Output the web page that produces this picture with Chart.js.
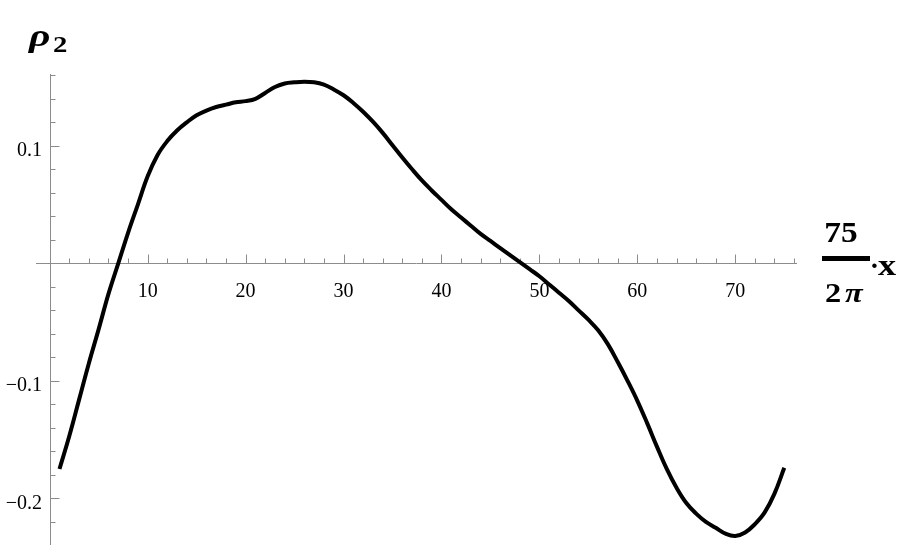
<!DOCTYPE html>
<html>
<head>
<meta charset="utf-8">
<script src="https://cdn.jsdelivr.net/npm/chart.js@4.4.0/dist/chart.umd.min.js"></script>
<style>
html,body{margin:0;padding:0;background:#fff;}
#wrap{width:900px;height:545px;position:relative;}
</style>
</head>
<body>
<div id="wrap"><canvas id="c"></canvas></div>
<script>
// ---- data ----
const xValues = [1,2,3,4,5,6,7,8,9,10,11,12,13,14,15,16,17,18,19,20,21,22,23,24,25,26,27,28,29,30,31,32,33,34,35,36,37,38,39,40,41,42,43,44,45,46,47,48,49,50,51,52,53,54,55,56,57,58,59,60,61,62,63,64,65,66,67,68,69,70,71,72,73,74,75];
const rhoValues = [-0.175,-0.147,-0.116,-0.085,-0.056,-0.026,0.000,0.026,0.050,0.074,0.092,0.104,0.113,0.120,0.126,0.130,0.133,0.135,0.137,0.138,0.140,0.145,0.150,0.153,0.154,0.1545,0.154,0.152,0.148,0.143,0.1365,0.129,0.1205,0.111,0.1005,0.090,0.080,0.0705,0.062,0.054,0.046,0.039,0.032,0.025,0.019,0.013,0.007,0.001,-0.005,-0.011,-0.018,-0.025,-0.032,-0.040,-0.048,-0.057,-0.069,-0.084,-0.100,-0.117,-0.136,-0.156,-0.175,-0.191,-0.204,-0.213,-0.220,-0.225,-0.230,-0.232,-0.229,-0.222,-0.212,-0.196,-0.174];
const xMajorTicks = [10,20,30,40,50,60,70];
const xTickLabels = ["10","20","30","40","50","60","70"];
const yMajorTicks = [0.1,-0.1,-0.2];
const yTickLabels = ["0.1","\u22120.1","\u22120.2"];
const xMinorStep = 2, yMinorStep = 0.02;
const xRange = [-1.4, 76.3];
const yRange = [-0.2397, 0.1611];

const points = xValues.map((x,i)=>({x:x, y:rhoValues[i]}));

function stretchedText(ctx, txt, x, y, sx, font, align){
  ctx.save();
  ctx.font = font;
  ctx.textAlign = align || 'left';
  ctx.translate(x, y);
  ctx.scale(sx, 1);
  ctx.fillText(txt, 0, 0);
  ctx.restore();
}

const axesPlugin = {
  id:'mmaAxes',
  beforeDatasetsDraw(chart){
    const ctx = chart.ctx, xs = chart.scales.x, ys = chart.scales.y, a = chart.chartArea;
    const x0 = Math.round(xs.getPixelForValue(0)) + 0.5;
    const y0 = Math.round(ys.getPixelForValue(0)) + 0.5;
    ctx.save();
    ctx.strokeStyle = '#8c8c8c';
    ctx.lineWidth = 1;
    ctx.beginPath();
    ctx.moveTo(a.left, y0); ctx.lineTo(a.right, y0);
    ctx.moveTo(x0, a.top); ctx.lineTo(x0, a.bottom);
    for (let v = xMinorStep; v <= xRange[1] + 1e-9; v += xMinorStep) {
      const px = Math.round(xs.getPixelForValue(v)) + 0.5;
      const major = Math.abs(v % 10) < 1e-9;
      ctx.moveTo(px, y0); ctx.lineTo(px, y0 - (major ? 9 : 5));
    }
    for (let k = Math.ceil(yRange[0]/yMinorStep - 1e-9); k*yMinorStep <= yRange[1] + 1e-9; k++) {
      if (k === 0) continue;
      const v = k*yMinorStep;
      const py = Math.round(ys.getPixelForValue(v)) + 0.5;
      const major = (k % 5) === 0;
      ctx.moveTo(x0, py); ctx.lineTo(x0 + (major ? 9 : 5), py);
    }
    ctx.stroke();

    ctx.fillStyle = '#000';
    ctx.font = '20px "Liberation Serif", "Times New Roman", serif';
    ctx.textBaseline = 'alphabetic';
    ctx.textAlign = 'center';
    xMajorTicks.forEach((v,i)=>{
      ctx.fillText(xTickLabels[i], xs.getPixelForValue(v), y0 + 33);
    });
    ctx.textAlign = 'right';
    yMajorTicks.forEach((v,i)=>{
      ctx.fillText(yTickLabels[i], 42, ys.getPixelForValue(v) + 10.5);
    });

    // y axis label rho_2
    stretchedText(ctx, '\u03C1', 29, 46, 1.3, 'italic bold 32px "Liberation Serif", serif');
    stretchedText(ctx, '2', 53, 52, 1.25, 'bold 23px "Liberation Serif", serif');

    // x axis label 75/(2 pi) . x
    stretchedText(ctx, '75', 841, 242, 1.15, 'bold 29px "Liberation Serif", serif', 'center');
    ctx.fillRect(822, 256, 48, 5);
    stretchedText(ctx, '2', 825, 302, 1.2, 'bold 27px "Liberation Serif", serif');
    stretchedText(ctx, '\u03C0', 845, 302, 1.2, 'italic bold 27px "Liberation Serif", serif');
    stretchedText(ctx, '\u00B7', 874.5, 275, 1, 'bold 28px "Liberation Serif", serif', 'center');
    stretchedText(ctx, 'x', 878, 275, 1.25, 'bold 29px "Liberation Serif", serif');
    ctx.restore();
  }
};

new Chart(document.getElementById('c'), {
  type:'line',
  data:{ datasets:[{
    data: points,
    borderColor:'#000',
    borderWidth:4,
    pointRadius:0,
    tension:0.4,
    fill:false
  }]},
  options:{
    responsive:true,
    maintainAspectRatio:false,
    animation:false,
    devicePixelRatio:1,
    layout:{padding:{left:36, right:103, top:74, bottom:0}},
    plugins:{legend:{display:false}, tooltip:{enabled:false}},
    scales:{
      x:{type:'linear', min:xRange[0], max:xRange[1], display:false},
      y:{type:'linear', min:yRange[0], max:yRange[1], display:false}
    }
  },
  plugins:[axesPlugin]
});
</script>
</body>
</html>
